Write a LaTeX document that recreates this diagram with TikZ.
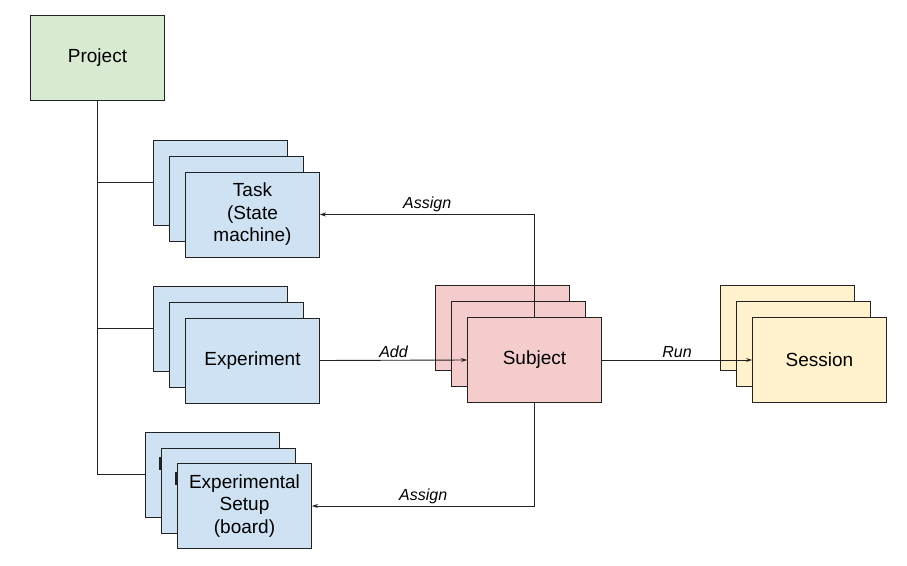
\documentclass[tikz,border=0pt]{standalone}
\usepackage{fontspec}
\setmainfont{Liberation Sans}
\usetikzlibrary{arrows.meta}
\definecolor{pgreen}{HTML}{D9EAD3}
\definecolor{pblue}{HTML}{CFE2F3}
\definecolor{pred}{HTML}{F4CCCC}
\definecolor{pyellow}{HTML}{FFF2CC}
\definecolor{pline}{HTML}{222222}
\tikzset{
 card/.style={draw=pline, line width=0.9pt, minimum width=134pt, minimum height=85pt, inner sep=0pt, align=center, font=\fontsize{19}{22.5}\selectfont},
 conn/.style={line width=0.9pt, draw=pline},
 arr/.style={conn, -{Stealth[length=6pt,width=4pt]}},
 lbl/.style={font=\itshape\fontsize{16}{18}\selectfont, above, inner sep=2pt},
 frag/.style={fill=pline, draw=none}
}
\begin{document}
\begin{tikzpicture}[x=1pt,y=-1pt]
\useasboundingbox[fill=white] (0,0) rectangle (907,565);
% Project
\node[card, fill=pgreen] (proj) at (97.5,58) {Project};
% Task stack
\node[card, fill=pblue] (tb1) at (220.5,182.5) {};
\node[card, fill=pblue] (tb2) at (236.5,198.5) {};
\node[card, fill=pblue] (task) at (252.5,214.5) {Task\\(State\\machine)};
% Experiment stack
\node[card, fill=pblue] (eb1) at (220.5,328.5) {};
\node[card, fill=pblue] (eb2) at (236.5,344.5) {};
\node[card, fill=pblue] (exp) at (252.5,360.5) {Experiment};
% Setup stack
\node[card, fill=pblue] (sb1) at (212.5,474.5) {};
\fill[frag] (159,457) rectangle (161.2,470);
\node[card, fill=pblue] (sb2) at (228.5,490.5) {};
\fill[frag] (175,472) rectangle (177.2,485);
\node[card, fill=pblue] (setup) at (244.5,506) {Experimental\\Setup\\(board)};
% Subject stack
\node[card, fill=pred] (ub1) at (502.5,328) {};
\node[card, fill=pred] (ub2) at (518.5,344) {};
\node[card, fill=pred] (subj) at (534.5,360) {Subject};
% Session stack
\node[card, fill=pyellow] (nb1) at (787.5,328) {};
\node[card, fill=pyellow] (nb2) at (803.5,344) {};
\node[card, fill=pyellow] (sess) at (819.5,360) {Session};
% Project tree
\draw[conn] (proj.south) |- (sb1.west);
\draw[conn] (proj.south |- tb1.west) -- (tb1.west);
\draw[conn] (proj.south |- eb1.west) -- (eb1.west);
% Connectors
\draw[arr] (subj.north) |- node[lbl, pos=0.75] {Assign} (task.east);
\draw[arr] (subj.south) |- node[lbl, pos=0.75] {Assign} (setup.east);
\draw[arr] (exp.east) -- node[lbl] {Add} (subj.west);
\draw[arr] (subj.east) -- node[lbl] {Run} (sess.west);
\end{tikzpicture}
\end{document}
